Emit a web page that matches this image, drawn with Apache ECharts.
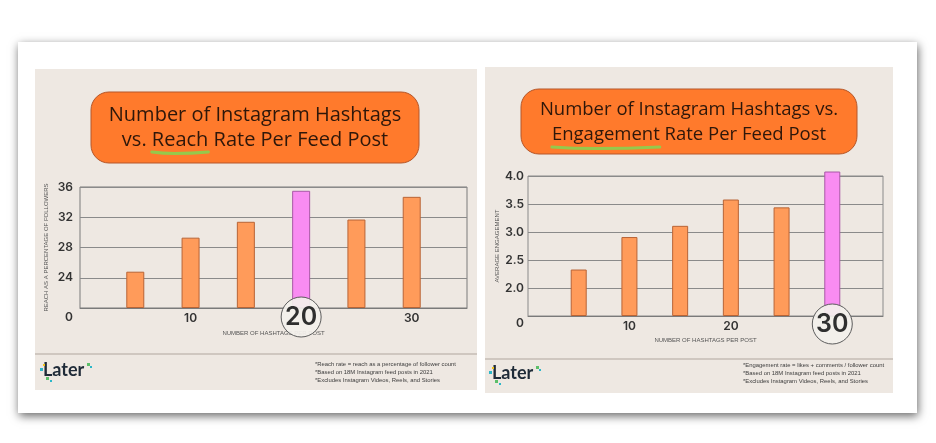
<!DOCTYPE html>
<html>
<head>
<meta charset="utf-8">
<script src="https://cdn.jsdelivr.net/npm/echarts@6/dist/echarts.min.js"></script>
<style>
  html, body { margin: 0; padding: 0; background: #ffffff; }
  #chart { width: 936px; height: 443px; }
</style>
</head>
<body>
<div id="chart"></div>
<script>
// data
var hashtagCounts = [5, 10, 15, 20, 25, 30];
var reachRates = [24.8, 29.3, 31.4, 35.5, 31.7, 34.7];
var engagementRates = [2.33, 2.91, 3.11, 3.58, 3.44, 4.08];
var reachPeak = 20;
var engagementPeak = 30;
// axis ranges: [shown from, max, interval]; everything below "shown from" is cut out down to 0
var hashtagAxis = [0, 35, 10];
var reachAxis = [20, 36, 4];
var engagementAxis = [1.5, 4.0, 0.5];

var chart = echarts.init(document.getElementById('chart'));

var orange = '#FF9B5A', orangeEdge = '#B86436';
var pink = '#F98CF2', pinkEdge = '#A958A6';
var numFont = 'Inter';

function barData(values, peak) {
    return hashtagCounts.map(function (x, i) {
        var hot = x === peak;
        return {
            value: [x, values[i]],
            itemStyle: {
                color: hot ? pink : orange,
                borderColor: hot ? pinkEdge : orangeEdge,
                borderWidth: 1
            }
        };
    });
}

function xAxisFor(gridIndex, peak, nameGap) {
    return {
        type: 'value', gridIndex: gridIndex,
        min: hashtagAxis[0], max: hashtagAxis[1], interval: hashtagAxis[2],
        name: 'NUMBER OF HASHTAGS PER POST', nameLocation: 'middle', nameGap: nameGap,
        nameTextStyle: { fontSize: 6, color: '#555', fontFamily: 'Liberation Sans' },
        axisLine: { show: true, lineStyle: { color: '#7a7a7a', width: 1 } },
        axisTick: { show: false },
        splitLine: { show: false },
        axisLabel: {
            margin: 4, fontSize: 12, fontWeight: 600, color: '#333', fontFamily: numFont,
            showMinLabel: false, showMaxLabel: false,
            formatter: function (v) { return v === peak ? '' : String(v); }
        }
    };
}

function yAxisFor(gridIndex, range, name, nameGap, zeroPad, digits) {
    return {
        type: 'value', gridIndex: gridIndex,
        min: 0, max: range[1], interval: range[2],
        breaks: [{ start: 0, end: range[0], gap: 0 }],
        breakArea: { show: false },
        name: name, nameLocation: 'middle', nameGap: nameGap, nameRotate: 90,
        nameTextStyle: { fontSize: 6, color: '#555', fontFamily: 'Liberation Sans' },
        axisLine: { show: false },
        axisTick: { show: false },
        splitLine: { lineStyle: { color: '#8a8a8a', width: 1 } },
        axisLabel: {
            margin: gridIndex === 0 ? 7 : 4,
            fontSize: 12, fontWeight: 600, color: '#333', fontFamily: numFont,
            formatter: function (v) {
                if (v === 0) return '{z|0}';
                if (v <= range[0]) return '';
                return v.toFixed(digits);
            },
            rich: { z: { padding: [zeroPad, 0, 0, 0], fontSize: 12, fontWeight: 600, color: '#333', fontFamily: numFont } }
        }
    };
}

function circleMark(peak, offset) {
    return {
        symbol: 'circle', symbolSize: 40,
        itemStyle: { color: 'rgba(243,240,236,0.93)', borderColor: '#5c5c5c', borderWidth: 1 },
        label: {
            show: true, position: 'inside', formatter: String(peak),
            fontSize: 25, fontWeight: 600, color: '#2f2f2f', fontFamily: numFont
        },
        data: [{ coord: [peak, 0], symbolOffset: [0, offset] }]
    };
}

var titleColor = '#2e170a';
var titleFont = 'Open Sans';
var noteStyle = { fontSize: 5.9, fill: '#3c3c3c', fontFamily: 'Liberation Sans', lineHeight: 8.3 };

// measure where the underlined word sits in a centred title line
var measureCtx = document.createElement('canvas').getContext('2d');
function wordSpan(line, word, size, cx) {
    measureCtx.font = '500 ' + size + 'px "' + titleFont + '"';
    var total = measureCtx.measureText(line).width;
    var before = measureCtx.measureText(line.slice(0, line.indexOf(word))).width;
    var w = measureCtx.measureText(word).width;
    var x0 = cx - total / 2 + before;
    return [x0, x0 + w];
}

function title(box, lines, word, size, lineY) {
    var cx = box[0] + box[2] / 2;
    var span = wordSpan(lines[1], word, size, cx);
    var uy = lineY + 12;
    return [
        { type: 'rect', z: 5, shape: { x: box[0], y: box[1], width: box[2], height: box[3], r: 18 },
          style: { fill: '#FF7A2C', stroke: '#B5572A', lineWidth: 1 } },
        { type: 'text', z: 6, x: cx, y: lineY - 12.5,
          style: { text: lines.join('\n'), align: 'center', verticalAlign: 'middle',
                   fontSize: size, fontWeight: 500, lineHeight: 25, fill: titleColor, fontFamily: titleFont } },
        { type: 'polyline', z: 7,
          shape: { points: [[span[0], uy], [span[0] + (span[1] - span[0]) * 0.4, uy + 1.5], [span[1], uy]], smooth: 0.5 },
          style: { stroke: '#95c94c', lineWidth: 3, lineCap: 'round', fill: null } }
    ];
}

function logo(x, y) {
    return [
        { type: 'text', left: x + 3, top: y - 11, z: 5,
          style: { text: 'Later', fontSize: 18, fontWeight: 'bold', fill: '#1f2b38', fontFamily: 'Lato' } },
        { type: 'rect', z: 6, shape: { x: x, y: y - 4, width: 3, height: 3 }, style: { fill: '#2cb7c9' } },
        { type: 'rect', z: 6, shape: { x: x + 3, y: y - 8, width: 2, height: 2 }, style: { fill: '#f2c31b' } },
        { type: 'rect', z: 6, shape: { x: x + 6, y: y + 5, width: 3, height: 3 }, style: { fill: '#5cbf6a' } },
        { type: 'rect', z: 6, shape: { x: x + 10, y: y + 8, width: 2, height: 2 }, style: { fill: '#2cb7c9' } },
        { type: 'rect', z: 6, shape: { x: x + 47, y: y - 9, width: 3, height: 3 }, style: { fill: '#5cbf6a' } },
        { type: 'rect', z: 6, shape: { x: x + 50, y: y - 6, width: 2, height: 2 }, style: { fill: '#2cb7c9' } }
    ];
}

var option = {
    animation: false,
    backgroundColor: '#ffffff',
    grid: [
        { left: 80, top: 187, width: 387, height: 121, show: true, borderColor: '#7a7a7a', borderWidth: 1, backgroundColor: 'transparent' },
        { left: 528, top: 176, width: 355, height: 140, show: true, borderColor: '#8a8a8a', borderWidth: 1, backgroundColor: 'transparent' }
    ],
    xAxis: [xAxisFor(0, reachPeak, 22), xAxisFor(1, engagementPeak, 21)],
    yAxis: [
        yAxisFor(0, reachAxis, 'REACH AS A PERCENTAGE OF FOLLOWERS', 31, 18, 0),
        yAxisFor(1, engagementAxis, 'AVERAGE ENGAGEMENT', 28, 14, 1)
    ],
    series: [
        { type: 'bar', xAxisIndex: 0, yAxisIndex: 0, barWidth: 18, clip: false,
          data: barData(reachRates, reachPeak), markPoint: circleMark(reachPeak, 9) },
        { type: 'bar', xAxisIndex: 1, yAxisIndex: 1, barWidth: 16, clip: false,
          data: barData(engagementRates, engagementPeak), markPoint: circleMark(engagementPeak, 8) }
    ],
    graphic: [
        // white card with shadow
        { type: 'rect', z: -20, shape: { x: 18, y: 42, width: 899, height: 371 },
          style: { fill: '#ffffff', shadowBlur: 9, shadowColor: 'rgba(0,0,0,0.6)', shadowOffsetX: 1, shadowOffsetY: 3 } },
        // beige panels
        { type: 'rect', z: -10, shape: { x: 35, y: 69, width: 442, height: 321 }, style: { fill: '#EEE8E2' } },
        { type: 'rect', z: -10, shape: { x: 485, y: 67, width: 408, height: 326 }, style: { fill: '#EEE8E2' } },
        { type: 'line', z: -5, shape: { x1: 35, y1: 354, x2: 477, y2: 354 }, style: { stroke: '#c4bcb4', lineWidth: 1.5 } },
        { type: 'line', z: -5, shape: { x1: 485, y1: 359, x2: 893, y2: 359 }, style: { stroke: '#c4bcb4', lineWidth: 1.5 } },
        // footnotes
        { type: 'text', z: 5, x: 315, y: 360,
          style: Object.assign({ text: '*Reach rate = reach as a percentage of follower count\n*Based on 18M Instagram feed posts in 2021\n*Excludes Instagram Videos, Reels, and Stories' }, noteStyle) },
        { type: 'text', z: 5, x: 743, y: 361,
          style: Object.assign({ text: '*Engagement rate = likes + comments / follower count\n*Based on 18M Instagram feed posts in 2021\n*Excludes Instagram Videos, Reels, and Stories' }, noteStyle) }
    ].concat(
        title([91, 92, 328, 71], ['Number of Instagram Hashtags', 'vs. Reach Rate Per Feed Post'], 'Reach', 20, 140),
        title([521, 89, 336, 65], ['Number of Instagram Hashtags vs.', 'Engagement Rate Per Feed Post'], 'Engagement', 18.5, 135),
        logo(40, 372), logo(489, 375)
    )
};

chart.setOption(option);
</script>
</body>
</html>
